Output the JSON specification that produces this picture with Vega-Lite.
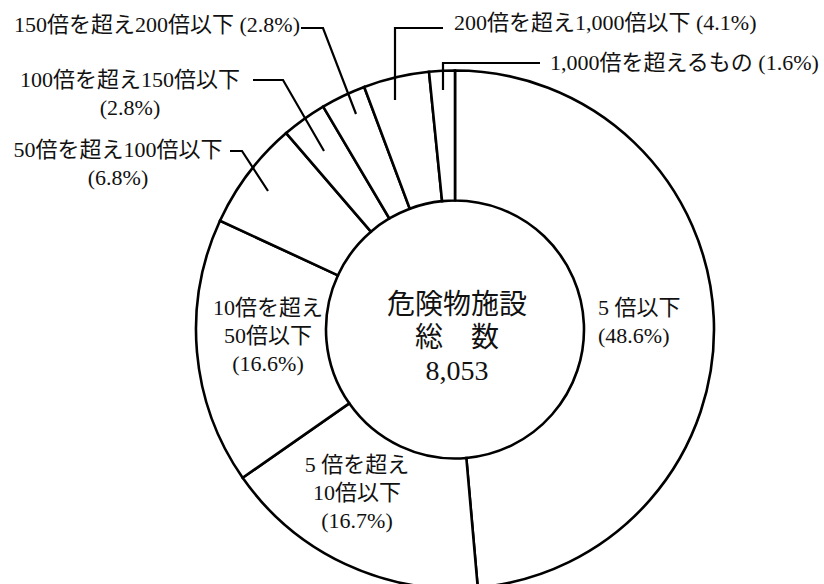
{
  "$schema": "https://vega.github.io/schema/vega-lite/v6.json",
  "width": 518,
  "height": 509,
  "autosize": "none",
  "padding": {"left": 196, "top": 75, "right": 110, "bottom": 0},
  "background": "white",
  "config": {
    "view": {"stroke": null},
    "text": {"font": "Liberation Serif, 'Noto Sans CJK JP', serif", "fontSize": 22, "color": "#111", "lineBreak": "\n", "lineHeight": 28, "baseline": "middle"}
  },
  "datasets": {
    "slices": [
      {"category": "5倍以下", "pct": 48.6, "ord": 1},
      {"category": "5倍を超え10倍以下", "pct": 16.7, "ord": 2},
      {"category": "10倍を超え50倍以下", "pct": 16.6, "ord": 3},
      {"category": "50倍を超え100倍以下", "pct": 6.8, "ord": 4},
      {"category": "100倍を超え150倍以下", "pct": 2.8, "ord": 5},
      {"category": "150倍を超え200倍以下", "pct": 2.8, "ord": 6},
      {"category": "200倍を超え1,000倍以下", "pct": 4.1, "ord": 7},
      {"category": "1,000倍を超えるもの", "pct": 1.6, "ord": 8}
    ],
    "leaders": [
      {"id": "150-200", "seq": 1, "x": -154, "y": -303},
      {"id": "150-200", "seq": 2, "x": -132, "y": -303},
      {"id": "150-200", "seq": 3, "x": -99, "y": -217},
      {"id": "100-150", "seq": 1, "x": -202, "y": -251},
      {"id": "100-150", "seq": 2, "x": -172, "y": -251},
      {"id": "100-150", "seq": 3, "x": -131, "y": -180},
      {"id": "50-100", "seq": 1, "x": -225, "y": -180},
      {"id": "50-100", "seq": 2, "x": -213, "y": -180},
      {"id": "50-100", "seq": 3, "x": -187, "y": -140},
      {"id": "200-1000", "seq": 1, "x": -60, "y": -231},
      {"id": "200-1000", "seq": 2, "x": -60, "y": -303},
      {"id": "200-1000", "seq": 3, "x": -12, "y": -303},
      {"id": "1000-", "seq": 1, "x": -12, "y": -241},
      {"id": "1000-", "seq": 2, "x": -12, "y": -268},
      {"id": "1000-", "seq": 3, "x": 85, "y": -268}
    ],
    "labels": [
      {"label": "150倍を超え200倍以下 (2.8%)", "x": -155, "y": -306, "pos": "right"},
      {"label": "100倍を超え150倍以下\n(2.8%)", "x": -325, "y": -251, "pos": "center"},
      {"label": "50倍を超え100倍以下\n(6.8%)", "x": -337, "y": -181, "pos": "center"},
      {"label": "200倍を超え1,000倍以下 (4.1%)", "x": -1, "y": -308, "pos": "left"},
      {"label": "1,000倍を超えるもの (1.6%)", "x": 95, "y": -268, "pos": "left"},
      {"label": "5 倍以下\n(48.6%)", "x": 143, "y": -23, "pos": "left"},
      {"label": "10倍を超え\n50倍以下\n(16.6%)", "x": -187, "y": -23, "pos": "center"},
      {"label": "5 倍を超え\n10倍以下\n(16.7%)", "x": -98, "y": 134, "pos": "center"},
      {"label": "危険物施設\n総　数\n8,053", "x": 2, "y": -25, "pos": "title"}
    ]
  },
  "layer": [
    {
      "data": {"name": "slices"},
      "mark": {"type": "arc", "outerRadius": 259, "innerRadius": 129, "fill": "white", "stroke": "black", "strokeWidth": 2.6},
      "encoding": {
        "theta": {"field": "pct", "type": "quantitative", "stack": true},
        "order": {"field": "ord", "type": "quantitative"}
      }
    },
    {
      "data": {"name": "leaders"},
      "mark": {"type": "line", "stroke": "black", "strokeWidth": 2.2},
      "encoding": {
        "x": {"field": "x", "type": "quantitative", "axis": null, "scale": {"domain": [-259, 259], "nice": false, "zero": false}},
        "y": {"field": "y", "type": "quantitative", "axis": null, "scale": {"domain": [-256, 253], "nice": false, "zero": false, "reverse": true}},
        "detail": {"field": "id"},
        "order": {"field": "seq", "type": "quantitative"}
      }
    },
    {
      "data": {"name": "labels"},
      "transform": [{"filter": "datum.pos === 'right'"}],
      "mark": {"type": "text", "align": "right"},
      "encoding": {
        "x": {"field": "x", "type": "quantitative"},
        "y": {"field": "y", "type": "quantitative"},
        "text": {"field": "label"}
      }
    },
    {
      "data": {"name": "labels"},
      "transform": [{"filter": "datum.pos === 'left'"}],
      "mark": {"type": "text", "align": "left"},
      "encoding": {
        "x": {"field": "x", "type": "quantitative"},
        "y": {"field": "y", "type": "quantitative"},
        "text": {"field": "label"}
      }
    },
    {
      "data": {"name": "labels"},
      "transform": [{"filter": "datum.pos === 'center'"}],
      "mark": {"type": "text", "align": "center"},
      "encoding": {
        "x": {"field": "x", "type": "quantitative"},
        "y": {"field": "y", "type": "quantitative"},
        "text": {"field": "label"}
      }
    },
    {
      "data": {"name": "labels"},
      "transform": [{"filter": "datum.pos === 'title'"}],
      "mark": {"type": "text", "align": "center", "fontSize": 28, "lineHeight": 33},
      "encoding": {
        "x": {"field": "x", "type": "quantitative"},
        "y": {"field": "y", "type": "quantitative"},
        "text": {"field": "label"}
      }
    }
  ]
}
